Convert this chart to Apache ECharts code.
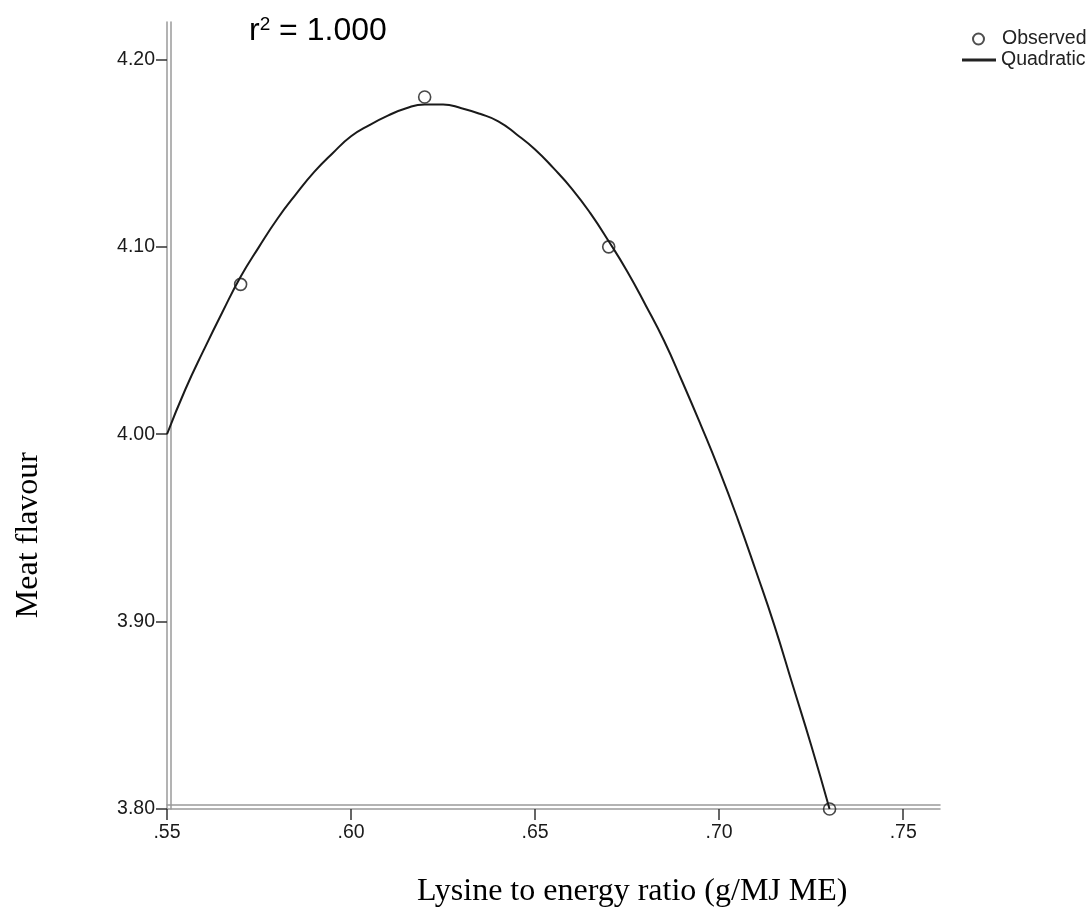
<!DOCTYPE html>
<html><head><meta charset="utf-8">
<script src="https://cdn.jsdelivr.net/npm/echarts@6/dist/echarts.min.js"></script>
<style>html,body{margin:0;padding:0;background:#fff}#c{width:1092px;height:914px}</style>
</head><body><div id="c"></div>
<script>
const observedX = [0.57, 0.62, 0.67, 0.73];
const observedY = [4.08, 4.18, 4.10, 3.80];
const curveX = [0.55,0.555,0.56,0.565,0.57,0.575,0.58,0.585,0.59,0.595,0.60,0.605,0.61,0.615,0.62,0.625,0.63,0.635,0.64,0.645,0.65,0.655,0.66,0.665,0.67,0.675,0.68,0.685,0.69,0.695,0.70,0.705,0.71,0.715,0.72,0.725,0.73];
const curveY = [4.000,4.024,4.045,4.065,4.084,4.100,4.115,4.128,4.140,4.150,4.159,4.165,4.170,4.174,4.176,4.176,4.174,4.171,4.167,4.160,4.152,4.142,4.131,4.118,4.103,4.087,4.069,4.050,4.028,4.005,3.981,3.955,3.927,3.898,3.866,3.834,3.800];
const rSquared = '1.000';
const yTitle = 'Meat flavour';
const xTitle = 'Lysine to energy ratio (g/MJ ME)';

const chart = echarts.init(document.getElementById('c'), null, {renderer: 'canvas'});
const sans = 'Liberation Sans, Arial, sans-serif';
const axisFont = {fontFamily: sans, fontSize: 19.5, color: '#1a1a1a'};
const lineGray = {color: '#9a9a9a', width: 1.5};
const tickStyle = {color: '#333', width: 1.5};
chart.setOption({
  animation: false,
  backgroundColor: '#fff',
  title: {
    text: 'r{sup|2} = ' + rSquared,
    left: 244, top: 10,
    textStyle: {fontFamily: sans, fontSize: 32, fontWeight: 'normal', color: '#000',
      rich: {sup: {fontSize: 19, verticalAlign: 'top', padding: [0,0,14,0], fontFamily: sans, color: '#000'}}}
  },
  legend: [{
    left: 972, top: 29, padding: 0, itemWidth: 11, itemHeight: 11,
    formatter: '{t|{name}}',
    textStyle: {fontFamily: sans, fontSize: 19.5, color: '#222', rich: {t: {fontFamily: sans, fontSize: 19.5, color: '#222', padding: [0,0,0,13]}}},
    data: [{name: 'Observed', icon: 'circle', itemStyle: {color: '#fff', borderColor: '#222', borderWidth: 2}}]
  }, {
    left: 962, top: 50, padding: 0, itemWidth: 34, itemHeight: 3,
    textStyle: {fontFamily: sans, fontSize: 19.5, color: '#222'},
    data: [{name: 'Quadratic', icon: 'rect', itemStyle: {color: '#222'}}]
  }],
  grid: {left: 167, right: 152, top: 22, bottom: 105},
  xAxis: [{
    type: 'value', min: 0.55, max: 0.76, interval: 0.05,
    axisLine: {show: true, onZero: false, lineStyle: lineGray},
    axisTick: {show: true, inside: false, length: 11, lineStyle: tickStyle},
    axisLabel: {...axisFont, margin: 14, showMaxLabel: false, formatter: v => v.toFixed(2).replace(/^0/, '')},
    splitLine: {show: false}
  }, {
    type: 'value', min: 0.55, max: 0.76, position: 'bottom', offset: -4,
    axisLine: {show: true, onZero: false, lineStyle: lineGray},
    axisTick: {show: false}, axisLabel: {show: false}, splitLine: {show: false}
  }],
  yAxis: [{
    type: 'value', min: 3.8, max: 4.22, interval: 0.1,
    axisLine: {show: true, onZero: false, lineStyle: lineGray},
    axisTick: {show: true, inside: false, length: 11, lineStyle: tickStyle},
    axisLabel: {...axisFont, margin: 12, showMaxLabel: false, formatter: v => v.toFixed(2)},
    splitLine: {show: false}
  }, {
    type: 'value', min: 3.8, max: 4.22, position: 'left', offset: -4,
    axisLine: {show: true, onZero: false, lineStyle: lineGray},
    axisTick: {show: false}, axisLabel: {show: false}, splitLine: {show: false}
  }],
  graphic: [
    {type: 'text', left: 13, top: 452, rotation: Math.PI/2,
     style: {text: yTitle, font: '32px "Liberation Serif", "Times New Roman", serif', fill: '#000'}},
    {type: 'text', left: 417, top: 876,
     style: {text: xTitle, font: '32px "Liberation Serif", "Times New Roman", serif', fill: '#000'}}
  ],
  series: [
    {
      name: 'Quadratic', type: 'line', xAxisIndex: 0, yAxisIndex: 0, smooth: true, showSymbol: false, symbol: 'none',
      lineStyle: {color: '#1a1a1a', width: 2}, itemStyle: {color: '#1a1a1a'},
      data: curveX.map((x, i) => [x, curveY[i]]), z: 3
    },
    {
      name: 'Observed', type: 'scatter', xAxisIndex: 0, yAxisIndex: 0, symbol: 'circle', symbolSize: 12,
      itemStyle: {color: 'rgba(255,255,255,0)', borderColor: '#1a1a1a', borderWidth: 1.6},
      data: observedX.map((x, i) => [x, observedY[i]]), z: 4
    }
  ]
});
</script></body></html>
